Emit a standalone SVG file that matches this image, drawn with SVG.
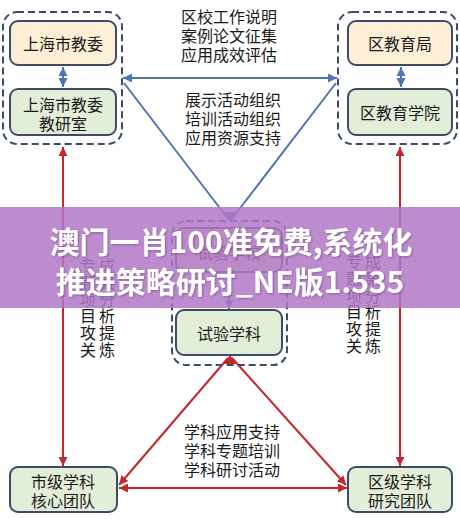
<svg xmlns="http://www.w3.org/2000/svg" width="460" height="519" viewBox="0 0 460 519">
<style>
.t{font-family:"Noto Sans CJK SC","Noto Sans",sans-serif;font-size:16px;fill:#1a1a1a;text-anchor:middle;dominant-baseline:central}
.v{font-family:"Noto Sans CJK SC","Noto Sans",sans-serif;font-size:16px;fill:#1a1a1a;writing-mode:vertical-rl;letter-spacing:0.8px}
.grp{fill:none;stroke:#3e4b68;stroke-width:2;stroke-dasharray:7 4}
.box{stroke:#3e4b68;stroke-width:2}
.or{fill:#fcefd6}
.gr{fill:#e3eed9}
.bl{stroke:#5273b4;stroke-width:2;fill:none}
.rd{stroke:#c4262c;stroke-width:2;fill:none}
.ban{font-family:"Noto Sans CJK SC","Noto Sans",sans-serif;font-weight:bold;font-size:30px;fill:#ffffff;text-anchor:middle;dominant-baseline:central}
</style>
<defs>
<marker id="ab" viewBox="0 0 10 10" refX="10" refY="5" markerWidth="4.5" markerHeight="4.5" orient="auto-start-reverse"><path d="M0,0 L10,5 L0,10 z" fill="#5273b4"/></marker>
<marker id="ar" viewBox="0 0 10 10" refX="10" refY="5" markerWidth="4.5" markerHeight="4.5" orient="auto-start-reverse"><path d="M0,0 L10,5 L0,10 z" fill="#c4262c"/></marker>
<filter id="sh" x="-10%" y="-30%" width="120%" height="160%"><feDropShadow dx="1" dy="1" stdDeviation="1" flood-color="#5a2f6a" flood-opacity="0.5"/></filter>
</defs>
<rect width="460" height="519" fill="#ffffff"/>

<g id="connectors">
<line class="bl" x1="63" y1="67" x2="63" y2="87" marker-start="url(#ab)" marker-end="url(#ab)"/>
<line class="bl" x1="401" y1="67" x2="401" y2="87" marker-start="url(#ab)" marker-end="url(#ab)"/>
<line class="bl" x1="123" y1="78" x2="337" y2="78" marker-start="url(#ab)" marker-end="url(#ab)"/>
<line class="bl" x1="124" y1="83" x2="229" y2="220"/>
<line class="bl" x1="336" y1="83" x2="231" y2="220"/>
<path d="M224,212 L230,221 L236,212 z" fill="#5273b4"/>
<line class="bl" x1="229" y1="272" x2="229" y2="309" marker-end="url(#ab)"/>
<line class="rd" x1="63" y1="147" x2="63" y2="466" marker-start="url(#ar)" marker-end="url(#ar)"/>
<line class="rd" x1="400" y1="147" x2="400" y2="466" marker-start="url(#ar)" marker-end="url(#ar)"/>
<line class="rd" x1="119" y1="488" x2="347" y2="488" marker-start="url(#ar)" marker-end="url(#ar)"/>
<line class="rd" x1="119" y1="485" x2="228" y2="358" marker-start="url(#ar)"/>
<line class="rd" x1="346" y1="485" x2="232" y2="358" marker-start="url(#ar)"/>
<path d="M224,364 L230,355 L236,364 z" fill="#c4262c"/>
</g>

<g id="group-city">
<rect class="grp" x="3" y="12" width="119" height="132" rx="14"/>
</g>
<g id="node-shjw">
<rect class="box or" x="10" y="21" width="106" height="44" rx="8"/>
<text class="t" x="63" y="43">上海市教委</text>
</g>
<g id="node-shjys">
<rect class="box gr" x="10" y="89" width="106" height="46" rx="8"/>
<text class="t" x="63" y="104">上海市教委<tspan x="63" dy="19">教研室</tspan></text>
</g>

<g id="group-district">
<rect class="grp" x="338" y="12" width="119" height="132" rx="14"/>
</g>
<g id="node-qjyj">
<rect class="box or" x="348" y="21" width="104" height="44" rx="8"/>
<text class="t" x="400" y="43">区教育局</text>
</g>
<g id="node-qjyxy">
<rect class="box gr" x="348" y="89" width="104" height="46" rx="8"/>
<text class="t" x="400" y="112">区教育学院</text>
</g>

<g id="group-trial">
<rect class="grp" x="172" y="221" width="115" height="144" rx="14"/>
</g>
<g id="node-syxx">
<rect class="box or" x="176" y="228" width="106" height="44" rx="8"/>
<text class="t" x="229" y="252">试验学校</text>
</g>
<g id="node-syxk">
<rect class="box gr" x="176" y="310" width="106" height="45" rx="8"/>
<text class="t" x="229" y="333">试验学科</text>
</g>

<g id="node-sjxk">
<rect class="box gr" x="10" y="467" width="107" height="45" rx="8"/>
<text class="t" x="63" y="481">市级学科<tspan x="63" dy="19">核心团队</tspan></text>
</g>
<g id="node-qjxk">
<rect class="box gr" x="348" y="467" width="104" height="45" rx="8"/>
<text class="t" x="400" y="481">区级学科<tspan x="400" dy="19">研究团队</tspan></text>
</g>

<g id="labels">
<text class="t" x="229" y="16">区校工作说明<tspan x="229" dy="19">案例论文征集</tspan><tspan x="229" dy="19">应用成效评估</tspan></text>
<text class="t" x="233" y="99">展示活动组织<tspan x="233" dy="19">培训活动组织</tspan><tspan x="233" dy="19">应用资源支持</tspan></text>
<text class="t" x="232" y="431">学科应用支持<tspan x="232" dy="19">学科专题培训</tspan><tspan x="232" dy="19">学科研讨活动</tspan></text>
<text class="v" x="88" y="258">专题项目攻关</text>
<text class="v" x="107" y="258">成果分析提炼</text>
<text class="v" x="354" y="254">专题项目攻关</text>
<text class="v" x="373" y="254">成果分析提炼</text>
</g>

<g id="banner">
<rect x="0" y="207" width="460" height="101" fill="#b078c7" opacity="0.85"/>
<g filter="url(#sh)">
<text class="ban" x="231" y="240">澳门一肖100准免费,系统化</text>
<text class="ban" x="230" y="280">推进策略研讨_NE版1.535</text>
</g>
</g>
</svg>
